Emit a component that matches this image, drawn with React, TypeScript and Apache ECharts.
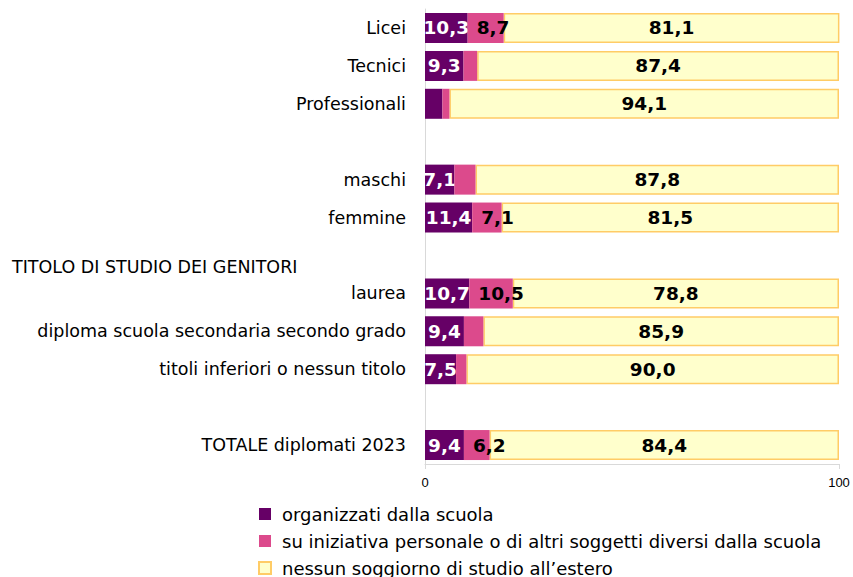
import React, { useEffect, useRef } from "react";
import * as echarts from "echarts";

const categories = [
  "Licei",
  "Tecnici",
  "Professionali",
  "",
  "maschi",
  "femmine",
  "",
  "laurea",
  "diploma scuola secondaria secondo grado",
  "titoli inferiori o nessun titolo",
  "",
  "TOTALE diplomati 2023",
];
const groupTitle = "TITOLO DI STUDIO DEI GENITORI";

const seriesNames = [
  "organizzati dalla scuola",
  "su iniziativa personale o di altri soggetti diversi dalla scuola",
  "nessun soggiorno di studio all\u2019estero",
];

const organizzati = [10.3, 9.3, 4.2, null, 7.1, 11.4, null, 10.7, 9.4, 7.5, null, 9.4];
const iniziativa = [8.7, 3.3, 1.7, null, 5.1, 7.1, null, 10.5, 4.7, 2.5, null, 6.2];
const nessuno = [81.1, 87.4, 94.1, null, 87.8, 81.5, null, 78.8, 85.9, 90.0, null, 84.4];

const xTicks = [0, 100];

const FONT = "DejaVu Sans";

const fmt = (p: any) => {
  const v = p.value;
  if (v == null || v < 6) return "";
  return v.toFixed(1).replace(".", ",");
};

export default function App() {
  const ref = useRef<HTMLDivElement>(null);
  useEffect(() => {
    if (!ref.current) return;
    const chart = echarts.init(ref.current, null, { renderer: "svg" });
    chart.setOption({
      animation: false,
      textStyle: { fontFamily: FONT },
      grid: { left: 425, right: 14, top: 9, bottom: 113, containLabel: false },
      xAxis: {
        type: "value",
        min: xTicks[0],
        max: xTicks[xTicks.length - 1],
        interval: 100,
        axisLine: { show: true, lineStyle: { color: "#d9d9d9", width: 1 } },
        axisTick: { show: true, length: 5, lineStyle: { color: "#d9d9d9" } },
        axisLabel: { fontSize: 13, color: "#000", margin: 12, fontFamily: "Liberation Sans" },
        splitLine: { show: false },
      },
      yAxis: {
        type: "category",
        inverse: true,
        data: categories,
        axisLine: { show: true, lineStyle: { color: "#d9d9d9", width: 1 } },
        axisTick: { show: false },
        axisLabel: { fontSize: 17.5, color: "#000", margin: 19, fontFamily: FONT },
      },
      legend: {
        orient: "vertical",
        left: 258,
        top: 505,
        padding: 0,
        icon: "rect",
        itemWidth: 12,
        itemHeight: 12,
        itemGap: 9,
        textStyle: { fontSize: 18, color: "#000", fontFamily: FONT, lineHeight: 18, padding: [0, 0, 0, 6] },
        data: [
          { name: seriesNames[0], itemStyle: { color: "#660066", borderWidth: 0 } },
          { name: seriesNames[1], itemStyle: { color: "#dc4a8c", borderWidth: 0 } },
          { name: seriesNames[2], itemStyle: { color: "#ffffcc", borderColor: "#ffcc66", borderWidth: 2 } },
        ],
      },
      graphic: [
        {
          type: "text",
          left: 12,
          top: 258,
          style: { text: groupTitle, fontSize: 17.5, fill: "#000", fontFamily: FONT },
        },
      ],
      series: [
        {
          name: seriesNames[0],
          type: "bar",
          stack: "t",
          barWidth: 30,
          data: organizzati,
          itemStyle: { color: "#660066" },
          label: {
            show: true,
            position: "inside",
            formatter: fmt,
            color: "#fff",
            fontWeight: "bold",
            fontSize: 18.5,
            fontFamily: FONT,
          },
        },
        {
          name: seriesNames[1],
          type: "bar",
          stack: "t",
          barWidth: 30,
          data: iniziativa,
          itemStyle: { color: "#dc4a8c" },
          label: {
            show: true,
            position: "insideLeft",
            distance: 9,
            formatter: fmt,
            color: "#000",
            fontWeight: "bold",
            fontSize: 18.5,
            fontFamily: FONT,
          },
          z: 3,
        },
        {
          name: seriesNames[2],
          type: "bar",
          stack: "t",
          barWidth: 30,
          data: nessuno,
          itemStyle: { color: "#ffffcc", borderColor: "#ffcc66", borderWidth: 1.5 },
          label: {
            show: true,
            position: "inside",
            formatter: fmt,
            color: "#000",
            fontWeight: "bold",
            fontSize: 18.5,
            fontFamily: FONT,
          },
          z: 2,
        },
      ],
    });
    return () => chart.dispose();
  }, []);
  return (
    <div
      ref={ref}
      style={{ position: "absolute", left: 0, top: 0, width: 853, height: 577, overflow: "hidden" }}
    />
  );
}
